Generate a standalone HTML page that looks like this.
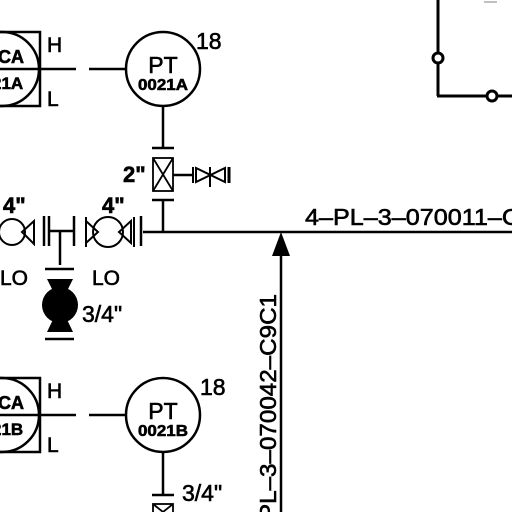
<!DOCTYPE html>
<html><head><meta charset="utf-8"><style>
html,body{margin:0;padding:0;background:#fff;width:512px;height:512px;overflow:hidden}
svg{display:block}
text{font-family:"Liberation Sans",sans-serif;fill:#000;stroke:#000;stroke-width:0.6}
</style></head><body>
<svg width="512" height="512" viewBox="0 0 512 512" stroke="#000" fill="none" stroke-width="2.5">
<g>
<rect x="-40" y="32" width="80" height="74"/>
<circle cx="2" cy="69" r="37"/>
<line x1="0" y1="69" x2="76" y2="69"/>
<text x="-2" y="63" font-size="18" font-weight="bold">CA</text>
<text x="-8" y="89" font-size="17" font-weight="bold">21A</text>
<text x="47" y="52" font-size="21">H</text>
<text x="47" y="106" font-size="21">L</text>
</g>
<line x1="89" y1="69" x2="126" y2="69"/>
<g>
<circle cx="163" cy="69" r="37"/>
<text x="163" y="73" font-size="23" text-anchor="middle">PT</text>
<text x="138" y="90" font-size="16" font-weight="bold" textLength="50" lengthAdjust="spacingAndGlyphs">0021A</text>
</g>
<text x="196" y="49" font-size="23">18</text>
<line x1="163" y1="106" x2="163" y2="148"/>
<line x1="152" y1="148" x2="174" y2="148"/>
<g stroke-width="1.8">
<rect x="153" y="158" width="20" height="33"/>
<line x1="153" y1="158" x2="173" y2="191"/><line x1="173" y1="158" x2="153" y2="191"/>
</g>
<text x="123" y="182" font-size="22" font-weight="bold">2"</text>
<line x1="173" y1="175" x2="192" y2="175"/>
<g stroke-width="2">
<line x1="193" y1="167" x2="193" y2="183"/>
<polygon points="196,168 196,182 225,168 225,182"/>
<line x1="210" y1="167" x2="210" y2="187"/>
<line x1="229" y1="167" x2="229" y2="183" stroke-width="3"/>
</g>
<line x1="152" y1="200" x2="174" y2="200"/>
<line x1="163" y1="200" x2="163" y2="232"/>
<line x1="143" y1="232" x2="512" y2="232"/>
<text x="305" y="225" font-size="23" textLength="215" lengthAdjust="spacingAndGlyphs">4–PL–3–070011–C</text>
<g stroke-width="2">
<circle cx="12" cy="232" r="13"/>
<polygon points="22,232 34,221 34,244"/>
</g>
<line x1="44" y1="216" x2="44" y2="246"/><line x1="49" y1="216" x2="49" y2="246"/>
<line x1="49" y1="231" x2="73" y2="231"/>
<line x1="74" y1="216" x2="74" y2="246"/>
<line x1="60" y1="231" x2="60" y2="265"/>
<g stroke-width="2">
<line x1="86" y1="217" x2="86" y2="247"/>
<polygon points="86,221 86,243 98,232"/>
<circle cx="108" cy="232" r="15"/>
<polygon points="131,221 131,243 119,232"/>
<line x1="134" y1="217" x2="134" y2="247"/>
</g>
<line x1="141" y1="216" x2="141" y2="246"/>
<text x="3" y="213" font-size="22" font-weight="bold">4"</text>
<text x="102" y="213" font-size="22" font-weight="bold">4"</text>
<text x="0" y="285" font-size="21">LO</text>
<text x="92" y="285" font-size="21">LO</text>
<line x1="45" y1="269" x2="74" y2="269"/>
<g fill="#000" stroke="none">
<polygon points="47,279 73,279 60,305"/>
<circle cx="60" cy="305" r="18"/>
<polygon points="47,332 73,332 60,305"/>
</g>
<line x1="45" y1="339" x2="74" y2="339"/>
<text x="82" y="322" font-size="23">3/4"</text>
<line x1="281" y1="250" x2="281" y2="512"/>
<polygon points="281,232 272,256 290,256" fill="#000" stroke="none"/>
<text transform="translate(276,520) rotate(-90)" font-size="23" textLength="226" lengthAdjust="spacingAndGlyphs">PL–3–070042–C9C1</text>
<g>
<rect x="-40" y="378" width="80" height="74"/>
<circle cx="2" cy="415" r="37"/>
<line x1="0" y1="415" x2="76" y2="415"/>
<text x="-2" y="409" font-size="18" font-weight="bold">CA</text>
<text x="-8" y="435" font-size="17" font-weight="bold">21B</text>
<text x="47" y="398" font-size="21">H</text>
<text x="47" y="452" font-size="21">L</text>
</g>
<line x1="89" y1="415" x2="126" y2="415"/>
<g>
<circle cx="163" cy="415" r="37"/>
<text x="163" y="419" font-size="23" text-anchor="middle">PT</text>
<text x="138" y="436" font-size="16" font-weight="bold" textLength="50" lengthAdjust="spacingAndGlyphs">0021B</text>
</g>
<text x="200" y="395" font-size="23">18</text>
<line x1="163" y1="452" x2="163" y2="495"/>
<line x1="152" y1="495" x2="174" y2="495"/>
<rect x="153" y="504" width="20" height="20" stroke-width="1.8"/>
<line x1="153" y1="504" x2="163" y2="512" stroke-width="1.8"/><line x1="173" y1="504" x2="163" y2="512" stroke-width="1.8"/>
<text x="182" y="501" font-size="23">3/4"</text>
<g stroke-width="3">
<line x1="438" y1="0" x2="438" y2="52"/>
<circle cx="438" cy="58" r="5"/>
<line x1="438" y1="64" x2="438" y2="96"/>
<line x1="437" y1="96" x2="486" y2="96"/>
<circle cx="492" cy="96" r="5"/>
<line x1="498" y1="96" x2="512" y2="96"/>
</g>
<line x1="484" y1="2" x2="497" y2="2" stroke="#aaa" stroke-width="1.5"/>
</svg>
</body></html>
